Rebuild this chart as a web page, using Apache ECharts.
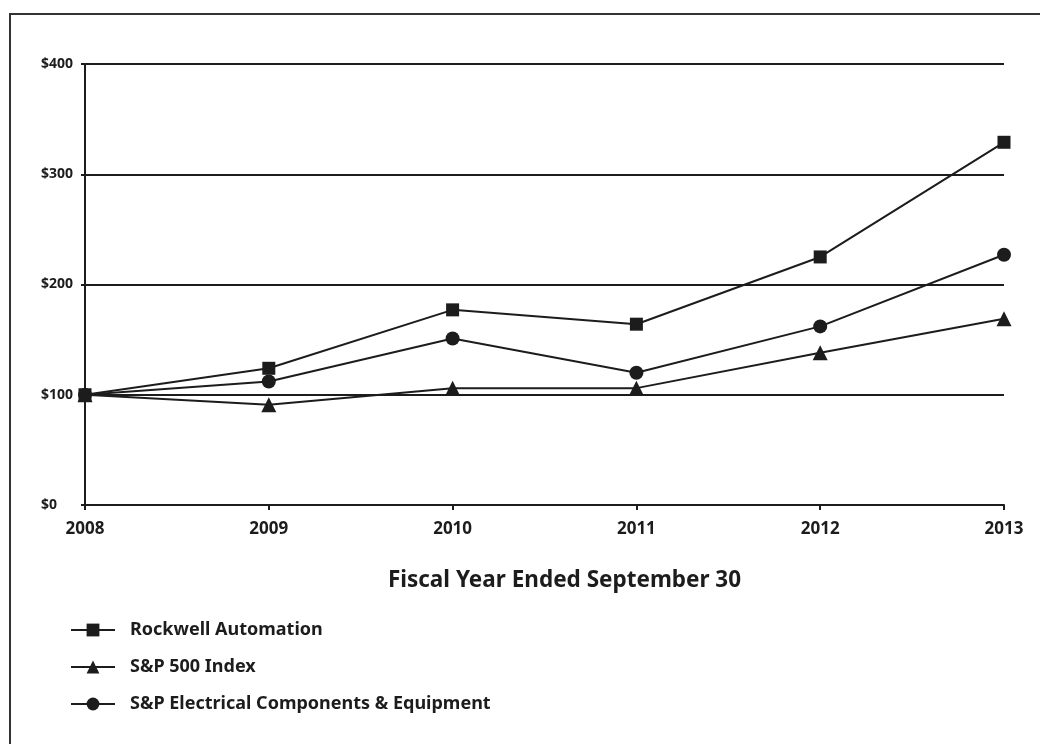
<!DOCTYPE html>
<html><head><meta charset="utf-8">
<script src="https://cdn.jsdelivr.net/npm/echarts@6/dist/echarts.min.js"></script>
<style>
html,body{margin:0;padding:0;background:#fff;}
#frame{position:absolute;left:9px;top:13px;width:1100px;height:800px;border-left:2px solid #333;border-top:2px solid #333;}
#c{position:absolute;left:0;top:0;width:1040px;height:744px;}
</style></head><body>
<div id="frame"></div>
<div id="c"></div>
<script>
const years = ['2008','2009','2010','2011','2012','2013'];
const rockwell = [100,124,177,164,225,329];
const sp500 = [100,91,106,106,138,169];
const spElec = [100,112,151,120,162,227];
const seriesNames = ['Rockwell Automation','S&P 500 Index','S&P Electrical Components & Equipment'];

const ink = '#1c1c1c';
const chart = echarts.init(document.getElementById('c'));
function mk(name, data, symbol, size){
  return {name, type:'line', data, symbol, symbolSize:size, showSymbol:true,
    lineStyle:{color:ink,width:2}, itemStyle:{color:ink}, z:5, animation:false};
}
chart.setOption({
  animation:false,
  textStyle:{fontFamily:'Noto Sans'},
  grid:{left:85,right:36,top:64,bottom:239},
  xAxis:{type:'category',data:years,boundaryGap:false,
    axisLine:{lineStyle:{color:ink,width:2}},
    axisTick:{show:true,length:5,inside:false,lineStyle:{color:ink,width:2}},
    axisLabel:{color:ink,fontWeight:'bold',fontSize:17,margin:16,fontFamily:'Noto Sans'},
    name:'Fiscal Year Ended September 30',nameLocation:'middle',nameGap:64,
    nameTextStyle:{color:ink,fontSize:22.5,fontWeight:'bold',fontFamily:'Noto Sans',padding:[0,0,0,40]}
  },
  yAxis:{type:'value',min:0,max:400,interval:100,
    axisLine:{show:true,lineStyle:{color:ink,width:2}},
    axisTick:{show:true,length:4,lineStyle:{color:ink,width:2}},
    axisLabel:{color:ink,fontWeight:'bold',fontSize:14,margin:44,align:'left',fontFamily:'Noto Sans',
      formatter:v=>'$'+v},
    splitLine:{show:true,lineStyle:{color:ink,width:2}}
  },
  legend:{orient:'vertical',left:65,top:616,itemWidth:44,itemHeight:16,itemGap:19,
    data:seriesNames,
    textStyle:{color:ink,fontWeight:'bold',fontSize:18,fontFamily:'Noto Sans',padding:[0,0,0,10]}
  },
  series:[
    mk(seriesNames[0],rockwell,'rect',13),
    mk(seriesNames[1],sp500,'triangle',15),
    mk(seriesNames[2],spElec,'circle',14)
  ]
});
</script>
</body></html>
